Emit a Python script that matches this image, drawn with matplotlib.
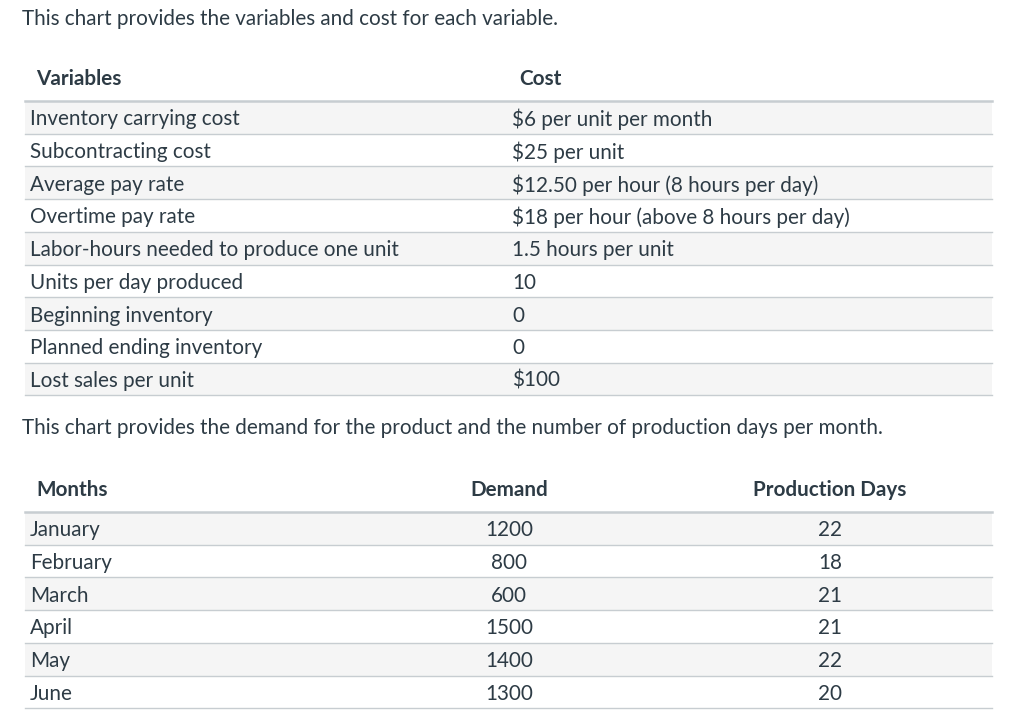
import matplotlib
matplotlib.use("Agg")
import matplotlib.pyplot as plt
from matplotlib.patches import Rectangle

variables = ["Inventory carrying cost", "Subcontracting cost", "Average pay rate",
             "Overtime pay rate", "Labor-hours needed to produce one unit",
             "Units per day produced", "Beginning inventory", "Planned ending inventory",
             "Lost sales per unit"]
costs = ["$6 per unit per month", "$25 per unit", "$12.50 per hour (8 hours per day)",
         "$18 per hour (above 8 hours per day)", "1.5 hours per unit", "10", "0", "0", "$100"]
months = ["January", "February", "March", "April", "May", "June"]
demand = [1200, 800, 600, 1500, 1400, 1300]
production_days = [22, 18, 21, 21, 22, 20]

intro1 = "This chart provides the variables and cost for each variable."
intro2 = "This chart provides the demand for the product and the number of production days per month."

TXT = "#2d3b45"
STRIPE = "#f5f5f5"
LINE = "#c7cdd1"
FONT = "Lato"
FS = 14.9

fig = plt.figure(figsize=(10.24, 7.16), dpi=100)
ax = fig.add_axes([0, 0, 1, 1])
ax.set_xlim(0, 1024)
ax.set_ylim(716, 0)
ax.axis("off")

x0, x1 = 25, 992
rowh = 32.7

def txt(x, y, s, ha="left", bold=False):
    ax.text(x, y + 1, s, ha=ha, va="center", fontsize=FS, color=TXT, family=FONT,
            fontweight="bold" if bold else "normal", zorder=4)

# Table 1
ty1, ly1 = 78, 101
for i in range(len(variables)):
    top = ly1 + i * rowh
    if i % 2 == 0:
        ax.add_patch(Rectangle((x0, top), x1 - x0, rowh, color=STRIPE, lw=0, zorder=1))
    ax.plot([x0, x1], [top + rowh, top + rowh], color=LINE, lw=1.0, zorder=2)
    txt(30, top + rowh / 2 + 1, variables[i])
    txt(512, top + rowh / 2 + 1, costs[i])
ax.plot([x0, x1], [ly1, ly1], color=LINE, lw=1.8, zorder=3)
txt(36, ty1, "Variables", bold=True)
txt(519, ty1, "Cost", bold=True)

# Table 2
ty2, ly2 = 489, 512
for i in range(len(months)):
    top = ly2 + i * rowh
    if i % 2 == 0:
        ax.add_patch(Rectangle((x0, top), x1 - x0, rowh, color=STRIPE, lw=0, zorder=1))
    ax.plot([x0, x1], [top + rowh, top + rowh], color=LINE, lw=1.0, zorder=2)
    txt(30, top + rowh / 2 + 1, months[i])
    txt(509, top + rowh / 2 + 1, str(demand[i]), ha="center")
    txt(830, top + rowh / 2 + 1, str(production_days[i]), ha="center")
ax.plot([x0, x1], [ly2, ly2], color=LINE, lw=1.8, zorder=3)
txt(36, ty2, "Months", bold=True)
txt(509, ty2, "Demand", ha="center", bold=True)
txt(830, ty2, "Production Days", ha="center", bold=True)

txt(22, 18, intro1)
txt(22, 427, intro2)

fig.savefig("out.png", dpi=100, facecolor="white")
